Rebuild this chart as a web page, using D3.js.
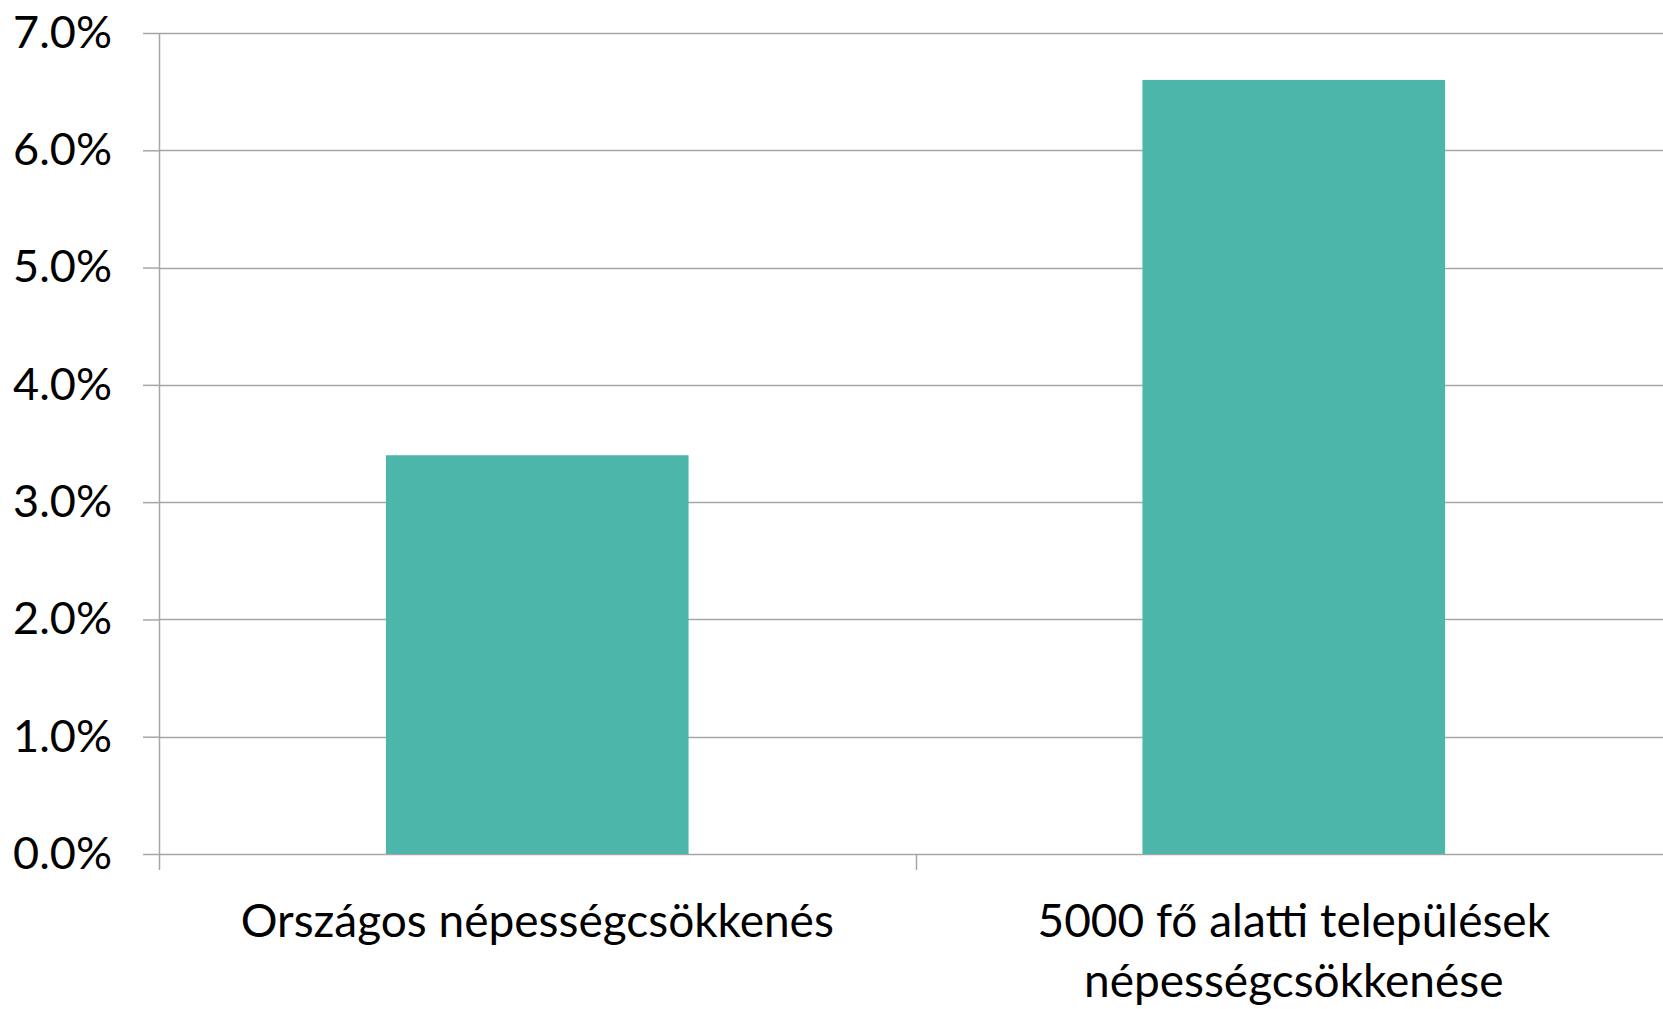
<!DOCTYPE html>
<html>
<head>
<meta charset="utf-8">
<script src="https://cdn.jsdelivr.net/npm/d3@7"></script>
<style>
    body { margin: 0; background: #fff; }
    svg text { font-family: Lato, 'Open Sans', sans-serif; fill: #000; }
</style>
</head>
<body>
<svg id="chart" width="1663" height="1009"></svg>
<script>
    var categories = [
        ['Országos népességcsökkenés'],
        ['5000 fő alatti települések', 'népességcsökkenése']
    ]
    var values = [0.034, 0.066]
    var yTicks = [0, 0.01, 0.02, 0.03, 0.04, 0.05, 0.06, 0.07]

    var margin = { top: 33, left: 159, right: -9, bottom: 155 },
        width = 1663 - margin.left - margin.right,
        height = 1009 - margin.top - margin.bottom

    var svg = d3.select('#chart')
    var g = svg.append('g')
        .attr('transform', 'translate(' + margin.left + ',' + margin.top + ')')

    var x = d3.scaleBand()
        .domain(d3.range(categories.length))
        .range([0, width])
        .paddingInner(0.6)
        .paddingOuter(0.3)

    var y = d3.scaleLinear()
        .domain([0, 0.07])
        .range([height, 0])

    // gridlines
    g.append('g')
        .selectAll('line')
        .data(yTicks)
        .enter()
        .append('line')
        .attr('x1', 0)
        .attr('x2', 1663 - margin.left)
        .attr('y1', function (d) { return Math.round(y(d)) + 0.5 })
        .attr('y2', function (d) { return Math.round(y(d)) + 0.5 })
        .attr('stroke', '#a6a6a6')
        .attr('stroke-width', 1.5)

    // bars
    g.selectAll('.bar')
        .data(values)
        .enter()
        .append('rect')
        .attr('class', 'bar')
        .attr('x', function (d, i) { return x(i) })
        .attr('width', x.bandwidth())
        .attr('y', function (d) { return y(d) })
        .attr('height', function (d) { return height - y(d) })
        .attr('fill', '#4db6ab')

    // y axis
    var yAxis = g.append('g')
        .call(d3.axisLeft(y)
            .tickValues(yTicks)
            .tickFormat(d3.format('.1%'))
            .tickSize(16)
            .tickPadding(31))
    yAxis.select('.domain').remove()
    yAxis.selectAll('line')
        .attr('stroke', '#a6a6a6')
        .attr('stroke-width', 1.5)
    yAxis.selectAll('text')
        .style('font-size', '45px')

    // vertical axis line
    g.append('line')
        .attr('x1', 0.5).attr('x2', 0.5)
        .attr('y1', 0).attr('y2', height + 16)
        .attr('stroke', '#a6a6a6')
        .attr('stroke-width', 1.5)

    // category boundary ticks
    g.selectAll('.ctick')
        .data(d3.range(1, categories.length))
        .enter()
        .append('line')
        .attr('class', 'ctick')
        .attr('x1', function (d) { return Math.round(x(d) - x.step() * x.paddingInner() / 2) + 0.5 })
        .attr('x2', function (d) { return Math.round(x(d) - x.step() * x.paddingInner() / 2) + 0.5 })
        .attr('y1', height)
        .attr('y2', height + 16)
        .attr('stroke', '#a6a6a6')
        .attr('stroke-width', 1.5)

    // category labels
    var labels = g.selectAll('.clabel')
        .data(categories)
        .enter()
        .append('text')
        .attr('class', 'clabel')
        .attr('text-anchor', 'middle')
        .attr('transform', function (d, i) {
            return 'translate(' + (x(i) + x.bandwidth() / 2) + ',' + (height + 83) + ')'
        })
        .style('font-size', '46px')

    labels.selectAll('tspan')
        .data(function (d) { return d })
        .enter()
        .append('tspan')
        .attr('x', 0)
        .attr('dy', function (d, i) { return i ? 60 : 0 })
        .text(function (d) { return d })
</script>
</body>
</html>
